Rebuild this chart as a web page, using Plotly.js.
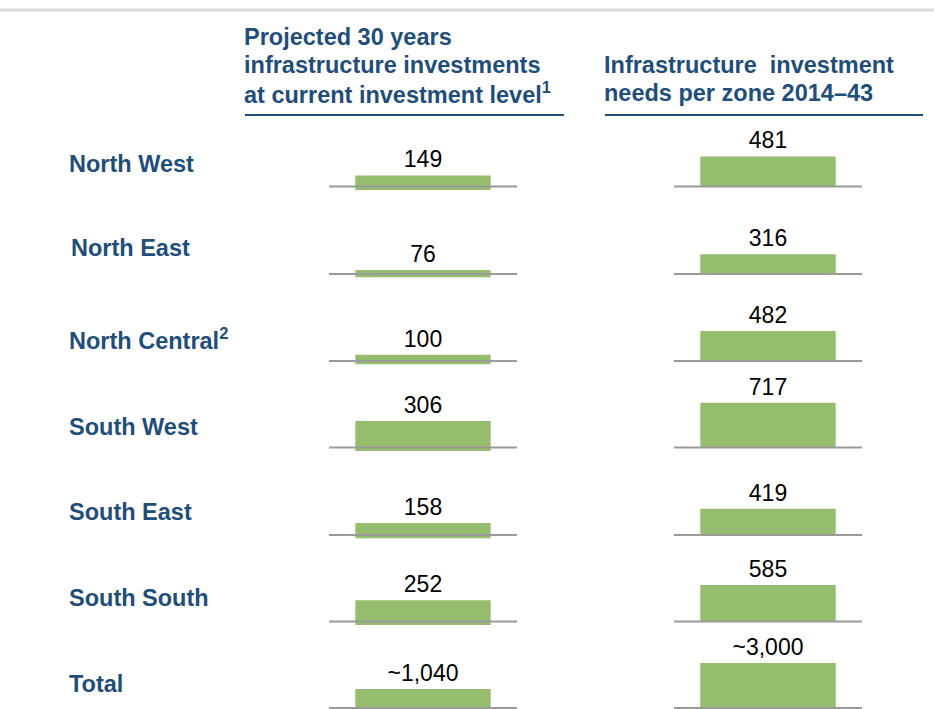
<!DOCTYPE html>
<html>
<head>
<meta charset="utf-8">
<script src="https://cdn.plot.ly/plotly-3.0.1.min.js"></script>
<style>
  html, body { margin: 0; padding: 0; background: #fff; }
  #plotArea { width: 934px; height: 709px; }
</style>
</head>
<body>
<div id="plotArea"></div>
<script>
// values per zone
var zones = ["North West", "North East", "North Central<sup>2</sup>", "South West", "South East", "South South", "Total"];
var currentLevel = [149, 76, 100, 306, 158, 252, 1040];
var currentLabels = ["149", "76", "100", "306", "158", "252", "~1,040"];
var needs = [481, 316, 482, 717, 419, 585, 3000];
var needsLabels = ["481", "316", "482", "717", "419", "585", "~3,000"];
var headerLeft = ["Projected 30 years", "infrastructure investments", "at current investment level<sup>1</sup>"];
var headerRight = ["Infrastructure \u00a0investment", "needs per zone 2014\u201343"];

var W = 934, H = 709;
var blue = "#1f4e79";
var green = "#95bd6d";
var font = "Liberation Sans, Arial, sans-serif";

// layout in pixels
var rowBase = [186.5, 274, 361, 447.5, 535, 621.5, 708];
var labelY = [164, 248, 339, 427, 512, 598, 684];
var labelX = [67, 69, 67, 67, 67, 67, 67];
var cellH = 80;
var columns = [
    {vals: currentLevel, labels: currentLabels, x0: 329, x1: 517, scale: 0.098, totalScale: 0.0183, drop: 3.5},
    {vals: needs, labels: needsLabels, x0: 674, x1: 862, scale: 0.0625, totalScale: 0.015, drop: 0}
];

function py(p) { return 1 - p / H; }

var data = [];
var layout = {
    width: W,
    height: H,
    margin: {l: 0, r: 0, t: 0, b: 0},
    paper_bgcolor: "#fff",
    plot_bgcolor: "rgba(0,0,0,0)",
    showlegend: false,
    hovermode: false,
    font: {family: font},
    shapes: [],
    annotations: []
};

columns.forEach(function (col, c) {
    for (var i = 0; i < zones.length; i++) {
        var n = c * zones.length + i + 1;
        var isTotal = i == zones.length - 1;
        var scale = isTotal ? col.totalScale : col.scale;
        var zero = rowBase[i] + (isTotal ? 0 : col.drop);
        data.push({
            type: "bar",
            x: [zones[i]],
            y: [col.vals[i]],
            text: [col.labels[i]],
            textposition: "outside",
            constraintext: "none",
            textfont: {size: 23, color: "#000", family: font},
            cliponaxis: false,
            width: 0.72,
            marker: {color: green, line: {width: 0}},
            xaxis: "x" + n,
            yaxis: "y" + n
        });
        layout["xaxis" + n] = {
            domain: [col.x0 / W, col.x1 / W],
            type: "category",
            range: [-0.5, 0.5],
            visible: false,
            fixedrange: true
        };
        layout["yaxis" + n] = {
            domain: [py(zero), py(zero) + cellH / H],
            range: [0, cellH / scale],
            visible: false,
            fixedrange: true
        };
        // grey baseline
        layout.shapes.push({
            type: "line", xref: "paper", yref: "paper",
            x0: col.x0 / W, x1: col.x1 / W, y0: py(rowBase[i]), y1: py(rowBase[i]),
            line: {color: "#9a9a9a", width: 2}
        });
    }
});

// row labels
zones.forEach(function (z, i) {
    layout.annotations.push({
        xref: "paper", yref: "paper", x: labelX[i] / W, y: py(labelY[i]),
        xanchor: "left", yanchor: "middle", showarrow: false,
        text: "<b>" + z + "</b>",
        font: {size: 23.5, color: blue, family: font}
    });
});

// column headers, one line each to keep the tight line spacing
headerLeft.forEach(function (t, k) {
    layout.annotations.push({
        xref: "paper", yref: "paper", x: 242 / W, y: py(37 + 28 * k),
        xanchor: "left", yanchor: "middle", showarrow: false,
        text: "<b>" + t + "</b>",
        font: {size: 23.5, color: blue, family: font}
    });
});
headerRight.forEach(function (t, k) {
    layout.annotations.push({
        xref: "paper", yref: "paper", x: 602 / W, y: py(65 + 28 * k),
        xanchor: "left", yanchor: "middle", showarrow: false,
        text: "<b>" + t + "</b>",
        font: {size: 23.5, color: blue, family: font}
    });
});

// header rules and top grey strip
layout.shapes.push(
    {type: "line", xref: "paper", yref: "paper", x0: 245 / W, x1: 564 / W, y0: py(115), y1: py(115), line: {color: blue, width: 2}},
    {type: "line", xref: "paper", yref: "paper", x0: 605 / W, x1: 923 / W, y0: py(115), y1: py(115), line: {color: blue, width: 2}},
    {type: "line", xref: "paper", yref: "paper", x0: 0, x1: 1, y0: py(10), y1: py(10), line: {color: "#dcdcdc", width: 3}}
);

Plotly.newPlot("plotArea", data, layout, {staticPlot: true, displayModeBar: false});
</script>
</body>
</html>
